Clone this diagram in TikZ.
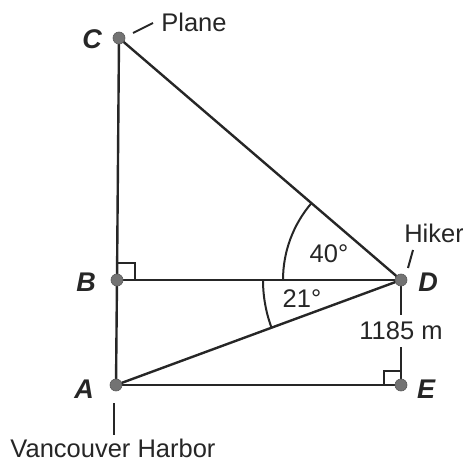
\documentclass[tikz,border=0pt]{standalone}
\usepackage{fontspec}
\setmainfont{Liberation Sans}
\usetikzlibrary{calc}
\begin{document}
\begin{tikzpicture}[x=1pt,y=-1pt,
  seg/.style={line width=2.4pt,draw=black!85},
  thin/.style={line width=2pt,draw=black!85},
  pt/.style={circle,fill=black!55,draw=black!65,line width=0.6pt,inner sep=0pt,minimum size=12pt},
  lbl/.style={font=\fontsize{27}{30}\selectfont\bfseries\itshape,text=black!85,inner sep=0pt},
  txt/.style={font=\fontsize{25.5}{29}\selectfont,text=black!85,inner sep=0pt}]
\useasboundingbox (0,0) rectangle (463,462);
\coordinate (C) at (119,38);
\coordinate (B) at (117,280);
\coordinate (A) at (116,385);
\coordinate (D) at (401,280);
\coordinate (E) at (401,385);
% right angle marks
\draw[thin] ($(B)+(0,-17)$) -- ++(18,0) -- ++(0,17);
\draw[thin] ($(E)+(-17,0)$) -- ++(0,-14) -- ++(17,0);
% sides
\draw[seg] (C) -- (B) -- (A);
\draw[seg] (B) -- (D);
\draw[seg] (C) -- (D);
\draw[seg] (A) -- (D);
\draw[seg] (A) -- (E);
% angle arcs
\draw[thin] ($(D)+(180:118)$) arc[start angle=180,end angle=220.6,radius=118];
\draw[thin] ($(D)+(180:138)$) arc[start angle=180,end angle=159.8,radius=138];
% DE with gap for label
\draw[thin] (D) -- (401,315);
\draw[thin] (401,347) -- (E);
% points
\node[pt] (nC) at (C) {};
\node[pt] (nB) at (B) {};
\node[pt] (nA) at (A) {};
\node[pt] (nD) at (D) {};
\node[pt] (nE) at (E) {};
% labels
\node[lbl] (lC) at (92,39) {C};
\node[lbl] (lB) at (86,282) {B};
\node[lbl] (lA) at (84,389) {A};
\node[lbl] (lD) at (428,282) {D};
\node[lbl] (lE) at (426,389) {E};
\node[txt] (plane) at (194,22) {Plane};
\draw[thin] (133,33) -- (153,23);
\node[txt] (hiker) at (434,233) {Hiker};
\draw[thin] (413,250) -- (408,268);
\node[txt] (a40) at (329,254) {40°};
\node[txt] (a21) at (302,299) {21°};
\node[txt] (h) at (401,331) {1185 m};
\draw[thin] (114,403) -- (114,435);
\node[txt] (vh) at (113,448) {Vancouver Harbor};
\end{tikzpicture}
\end{document}
